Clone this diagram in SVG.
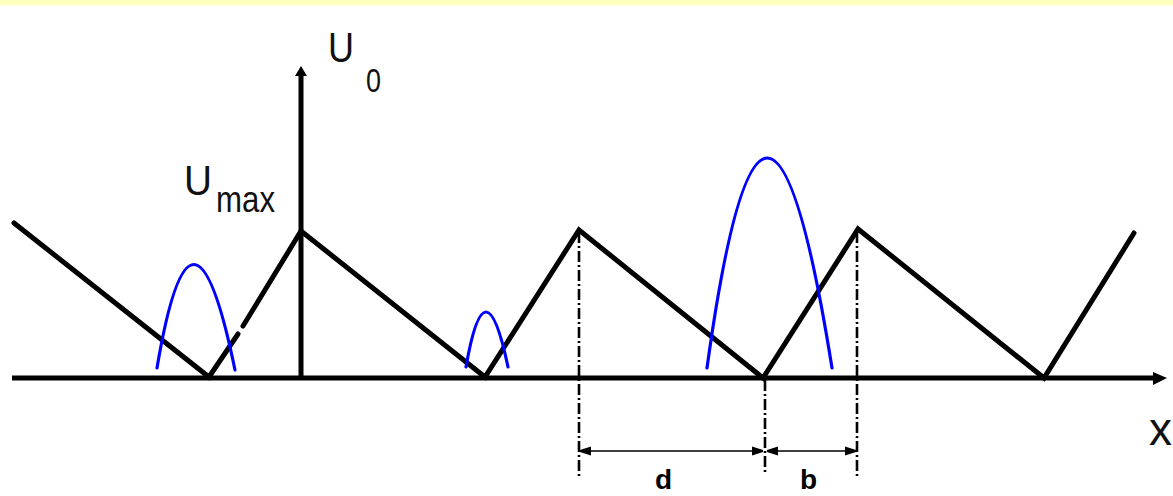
<svg xmlns="http://www.w3.org/2000/svg" width="1173" height="496" viewBox="0 0 1173 496">
<style>
.saw{fill:none;stroke:#000;stroke-width:5;stroke-linejoin:miter;stroke-linecap:round}
.axis{stroke:#000;stroke-width:5;fill:none}
.blue{fill:none;stroke:#0000FF;stroke-width:3.2;stroke-linecap:round}
.dd{stroke:#000;stroke-width:2.6;stroke-dasharray:11 3 2 3;fill:none}
.dim{stroke:#000;stroke-width:1.6;fill:none}
.lbl{font-family:"Liberation Sans",Arial,sans-serif;fill:#111}
.bold{font-family:"Liberation Sans",Arial,sans-serif;font-weight:bold;fill:#000}
</style>
<defs>
<marker id="dimA" viewBox="0 0 10 10" refX="10" refY="5" markerWidth="12" markerHeight="11" markerUnits="userSpaceOnUse" orient="auto-start-reverse">
<path d="M0,1 L10,4 L10,6 L0,9 Z" fill="#000"/>
</marker>
</defs>
<rect x="0" y="0" width="1173" height="496" fill="#fff"/>
<rect x="0" y="0" width="1173" height="5.5" fill="#FFFFC0"/>

<g id="axes">
<line class="axis" x1="12" y1="378" x2="1158" y2="378"/>
<path d="M1153,372 L1167,378 L1153,385 Z" fill="#000"/>
<line class="axis" x1="301" y1="378" x2="301" y2="74"/>
<path d="M295,76 L301,66 L307,76 Z" fill="#000"/>
</g>

<g id="potential">
<path class="saw" d="M14,223 L209,377 L238,334"/>
<path class="saw" d="M243,326 L301,231 L485,377 L579,230 L763,378 L858,229 L1044,378 L1134,233"/>
</g>

<g id="wavefunctions">
<path class="blue" d="M157,368 Q192,160 235,370"/>
<path class="blue" d="M466,367 Q485,257 508,367"/>
<path class="blue" d="M707,368 Q765,-52 832,368"/>
</g>

<g id="connectors">
<line class="dd" x1="579" y1="232" x2="579" y2="479"/>
<line class="dd" x1="765" y1="380" x2="765" y2="474"/>
<line class="dd" x1="857" y1="232" x2="857" y2="479"/>
<line class="dim" x1="580" y1="451" x2="763" y2="451" marker-start="url(#dimA)" marker-end="url(#dimA)"/>
<line class="dim" x1="767" y1="451" x2="856" y2="451" marker-start="url(#dimA)" marker-end="url(#dimA)"/>
</g>

<g id="labels">
<text class="lbl" x="328" y="62" font-size="42" textLength="26" lengthAdjust="spacingAndGlyphs">U</text>
<text class="lbl" x="366" y="92" font-size="33" textLength="15" lengthAdjust="spacingAndGlyphs">0</text>
<text class="lbl" x="184" y="195" font-size="42" textLength="28" lengthAdjust="spacingAndGlyphs">U</text>
<text class="lbl" x="216" y="212" font-size="36" textLength="59" lengthAdjust="spacingAndGlyphs">max</text>
<text class="lbl" x="1149" y="445" font-size="46">x</text>
<text class="bold" x="655" y="489" font-size="28">d</text>
<text class="bold" x="800" y="489" font-size="28">b</text>
</g>
</svg>
